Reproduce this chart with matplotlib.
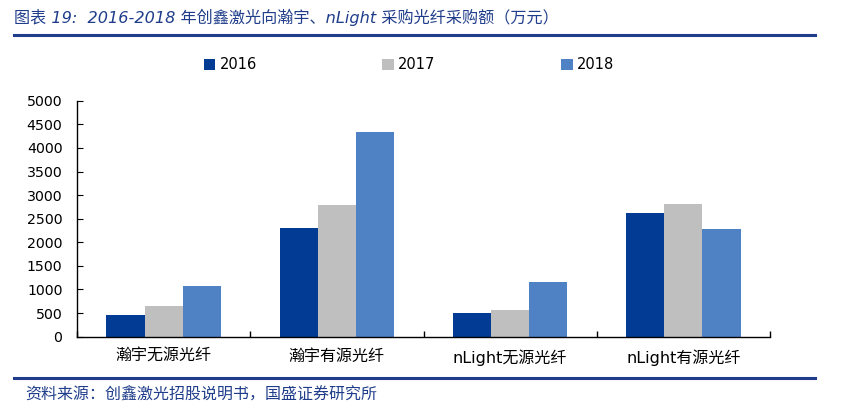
import numpy as np
import matplotlib
matplotlib.use('Agg')
import matplotlib.pyplot as plt

plt.rcParams['font.family'] = ['DejaVu Sans', 'Noto Sans CJK SC']

# Data (万元)
categories = ['瀚宇无源光纤', '瀚宇有源光纤', 'nLight无源光纤', 'nLight有源光纤']
years = ['2016', '2017', '2018']
v2016 = [460, 2300, 495, 2610]
v2017 = [655, 2790, 560, 2810]
v2018 = [1075, 4335, 1160, 2275]
colors = ['#023B94', '#BFBFBF', '#4F81C5']

title = '图表 19:  2016-2018 年创鑫激光向瀚宇、nLight 采购光纤采购额（万元）'
source = '资料来源：创鑫激光招股说明书，国盛证券研究所'
navy = '#1F3D8A'

fig = plt.figure(figsize=(8.41, 4.13), dpi=100)
ax = fig.add_axes([0.0916, 0.185, 0.824, 0.571])

x = np.arange(len(categories))
w = 0.22
for k, (vals, yr) in enumerate(zip([v2016, v2017, v2018], years)):
    ax.bar(x + (k - 1) * w, vals, width=w, color=colors[k], label=yr)

ax.set_xlim(-0.5, 3.5)
ax.set_ylim(0, 5000)
ax.set_yticks(np.arange(0, 5001, 500))
ax.set_xticks(x)
ax.set_xticklabels(categories, family=['DejaVu Sans', 'Noto Sans CJK SC'])
ax.set_xticks(np.arange(-0.5, 3.6, 1.0), minor=True)
ax.tick_params(axis='x', which='major', length=0, pad=9, labelsize=11.5)
ax.tick_params(axis='x', which='minor', direction='in', length=4, width=1)
ax.tick_params(axis='y', direction='in', length=4, labelsize=10.2, pad=10.5)
for s in ['top', 'right']:
    ax.spines[s].set_visible(False)
ax.spines['left'].set_linewidth(1.0)
ax.spines['bottom'].set_linewidth(1.0)

ax.legend(loc='center', bbox_to_anchor=(0.479, 1.152), ncol=3, frameon=False,
          fontsize=10.5, handlelength=0.8, handleheight=0.8, handletextpad=0.3,
          columnspacing=8.6)

# title and source with rules
fig.text(0.017, 0.958, title, fontsize=11.6, style='italic', color=navy,
         va='center', family=['DejaVu Sans', 'Noto Sans CJK SC'])
fig.add_artist(plt.Line2D([0.017, 0.969], [0.915, 0.915], color=navy, lw=2.2))
fig.add_artist(plt.Line2D([0.017, 0.969], [0.085, 0.085], color=navy, lw=2.2))
fig.text(0.03, 0.043, source, fontsize=11.5, style='italic', color=navy,
         va='center', family=['Noto Sans CJK SC', 'DejaVu Sans'])

fig.savefig('out.png', dpi=100)
